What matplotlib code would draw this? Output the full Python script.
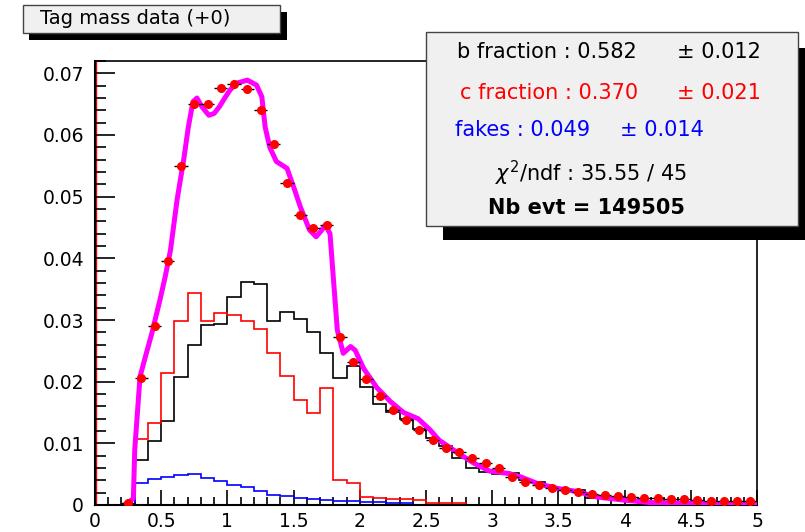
import numpy as np
import matplotlib
matplotlib.use('Agg')
import matplotlib.pyplot as plt
from matplotlib.patches import Rectangle
from matplotlib.ticker import MultipleLocator, FormatStrFormatter

plt.rcParams['font.family'] = ['DejaVu Sans']

# 50 bins of 0.1 from 0 to 5
edges = np.round(np.arange(0, 5.0001, 0.1), 2)

b_hist = [0, 0, 0,
          0.0073, 0.0103, 0.0137, 0.0208, 0.0259, 0.0292, 0.0293, 0.0338, 0.0362, 0.0359,
          0.0298, 0.0313, 0.0301, 0.0281, 0.0246, 0.0206, 0.0226, 0.0192, 0.0164, 0.0151,
          0.0140, 0.0124, 0.0108, 0.0095, 0.0076, 0.0060, 0.0054, 0.0050, 0.0052, 0.0041,
          0.0038, 0.0030, 0.0024, 0.0024, 0.0012, 0.0012, 0.0011, 0.0008,
          0.0004, 0.0004, 0.0004, 0.0004, 0.0004,
          0.0002, 0.0002, 0.0002, 0.0002]

c_hist = [0, 0, 0,
          0.0107, 0.0133, 0.0214, 0.0299, 0.0343, 0.0299, 0.0311, 0.0308, 0.0299, 0.0285,
          0.0247, 0.0209, 0.0171, 0.0149, 0.0190, 0.0040, 0.0035, 0.0013, 0.0012, 0.0010,
          0.0010, 0.0008, 0.0004, 0.0003, 0.0003] + [0] * 22

fake_hist = [0, 0, 0,
             0.0035, 0.0042, 0.0046, 0.0049, 0.0050, 0.0043, 0.0039, 0.0032, 0.0029, 0.0022,
             0.0016, 0.0015, 0.0011, 0.0009, 0.0008, 0.0007, 0.0006, 0.0005, 0.0005, 0.0003,
             0.0003] + [0] * 26

# data points, bins 0.25 .. 4.95
data_y = [0.0004, 0.0206, 0.0290, 0.0395, 0.0549, 0.0651, 0.0651, 0.0676, 0.0683, 0.0674,
          0.0640, 0.0585, 0.0522, 0.0470, 0.0449, 0.0454, 0.0272, 0.0232, 0.0205, 0.0176,
          0.0154, 0.0138, 0.0122, 0.0105, 0.0092, 0.0086, 0.0076, 0.0068, 0.0060, 0.0046,
          0.0038, 0.0033, 0.0028, 0.0024, 0.0021, 0.0018, 0.0016, 0.0014, 0.0013, 0.0012,
          0.0011, 0.0010, 0.0009, 0.0008, 0.0007, 0.0007, 0.0006, 0.0006]

# fit curve
fit_x = [0.22, 0.25, 0.29, 0.30, 0.34, 0.38, 0.43, 0.49, 0.53, 0.57, 0.62, 0.67, 0.705,
         0.74, 0.77, 0.81, 0.86, 0.90, 0.94, 0.98, 1.02, 1.07, 1.15, 1.22, 1.26, 1.285,
         1.32, 1.37, 1.45, 1.50, 1.55, 1.62, 1.67, 1.71, 1.74, 1.775, 1.79, 1.83, 1.875,
         1.93, 1.965, 2.03, 2.13, 2.23, 2.33, 2.44, 2.53, 2.60, 2.73, 2.86, 2.98, 3.13,
         3.21, 3.34, 3.49, 3.64, 3.79, 3.99, 4.19, 4.70, 5.0]
fit_y = [0.0, 0.0003, 0.0011, 0.0089, 0.0208, 0.0240, 0.0279, 0.0332, 0.0370, 0.0413,
         0.0495, 0.0560, 0.0613, 0.0654, 0.0660, 0.0645, 0.0632, 0.0635, 0.0646, 0.0660,
         0.0673, 0.0684, 0.0689, 0.0681, 0.0662, 0.0613, 0.0580, 0.0557, 0.0546, 0.0516,
         0.0484, 0.0446, 0.0435, 0.0445, 0.0454, 0.0440, 0.0397, 0.0284, 0.0246, 0.0257,
         0.0251, 0.0221, 0.0190, 0.0168, 0.0150, 0.0140, 0.0122, 0.0105, 0.0086, 0.0068,
         0.0055, 0.0051, 0.0046, 0.0035, 0.0027, 0.0022, 0.0013, 0.0008, 0.0004, 0.0002,
         0.0001]

title = 'Tag mass data (+0)'
stats = [('b fraction : 0.582', '± 0.012', 'black', 457, 677),
         ('c fraction : 0.370', '± 0.021', 'red', 460, 677),
         ('fakes : 0.049', '± 0.014', 'blue', 455, 620)]
chi2_text = r'$\chi^2$/ndf : 35.55 / 45'
nevt_text = 'Nb evt = 149505'

W, H = 805, 532
fig = plt.figure(figsize=(W / 100, H / 100), dpi=100)
fig.patch.set_facecolor('white')

# main pad, pixel box 95..757 x 61..505
ax = fig.add_axes([95 / W, 1 - 505 / H, 662 / W, 444 / H])
ax.set_xlim(0, 5)
ax.set_ylim(0, 0.072)

ax.stairs(b_hist, edges, color='black', lw=1.2, zorder=2)
ax.stairs(c_hist, edges, color='red', lw=1.2, zorder=2)
ax.stairs(fake_hist, edges, color='blue', lw=1.2, zorder=2)
ax.axvline(0.008, color='red', lw=1, zorder=1)

ax.plot(fit_x, fit_y, color='magenta', lw=3.6, zorder=3, solid_capstyle='butt')

centers = (edges[:-1] + edges[1:]) / 2
ax.errorbar(centers[2:], data_y, xerr=0.05, fmt='o', color='red', ms=5.5, mec='red',
            ecolor='black', elinewidth=1, capsize=0, zorder=4)

for s in ['top', 'right']:
    ax.spines[s].set_linewidth(1.2)
for s in ['left', 'bottom']:
    ax.spines[s].set_linewidth(1.5)

ax.xaxis.set_major_locator(MultipleLocator(0.5))
ax.xaxis.set_minor_locator(MultipleLocator(0.1))
ax.yaxis.set_major_locator(MultipleLocator(0.01))
ax.yaxis.set_minor_locator(MultipleLocator(0.002))
ax.xaxis.set_major_formatter(FormatStrFormatter('%g'))
ax.yaxis.set_major_formatter(FormatStrFormatter('%g'))
ax.tick_params(axis='x', which='major', direction='in', length=10.8, width=1.2,
               labelsize=13.5, pad=5, top=False)
ax.tick_params(axis='x', which='minor', direction='in', length=5.8, width=1.2, top=False)
ax.tick_params(axis='y', which='major', direction='in', length=14.4, width=1.2,
               labelsize=13.5, pad=8, right=False)
ax.tick_params(axis='y', which='minor', direction='in', length=8, width=1.2, right=False)

# overlay in pixel coordinates for the boxes
ov = fig.add_axes([0, 0, 1, 1], zorder=10)
ov.set_xlim(0, W)
ov.set_ylim(H, 0)
ov.axis('off')
ov.patch.set_alpha(0)

# title box with shadow
ov.add_patch(Rectangle((29, 12), 258, 28, facecolor='black', edgecolor='black', lw=0))
ov.add_patch(Rectangle((23, 5), 257, 28, facecolor='#f0f0f0', edgecolor='#444444', lw=1))
ov.text(40, 19, title, fontsize=14, ha='left', va='center')

# stats box with shadow
ov.add_patch(Rectangle((443, 48), 380, 192, facecolor='black', edgecolor='black', lw=0))
ov.add_patch(Rectangle((426, 32), 372, 194, facecolor='#f0f0f0', edgecolor='#444444', lw=1))
rows_y = [52, 93, 130]
for (lab, err, col, lx, ex), yy in zip(stats, rows_y):
    ov.text(lx, yy, lab, color=col, fontsize=15, ha='left', va='center')
    ov.text(ex, yy, err, color=col, fontsize=15, ha='left', va='center')
ov.text(495, 173, chi2_text, fontsize=15, ha='left', va='center')
ov.text(488, 208, nevt_text, fontsize=15, fontweight='bold', ha='left', va='center')

fig.savefig('out.png', dpi=100)
